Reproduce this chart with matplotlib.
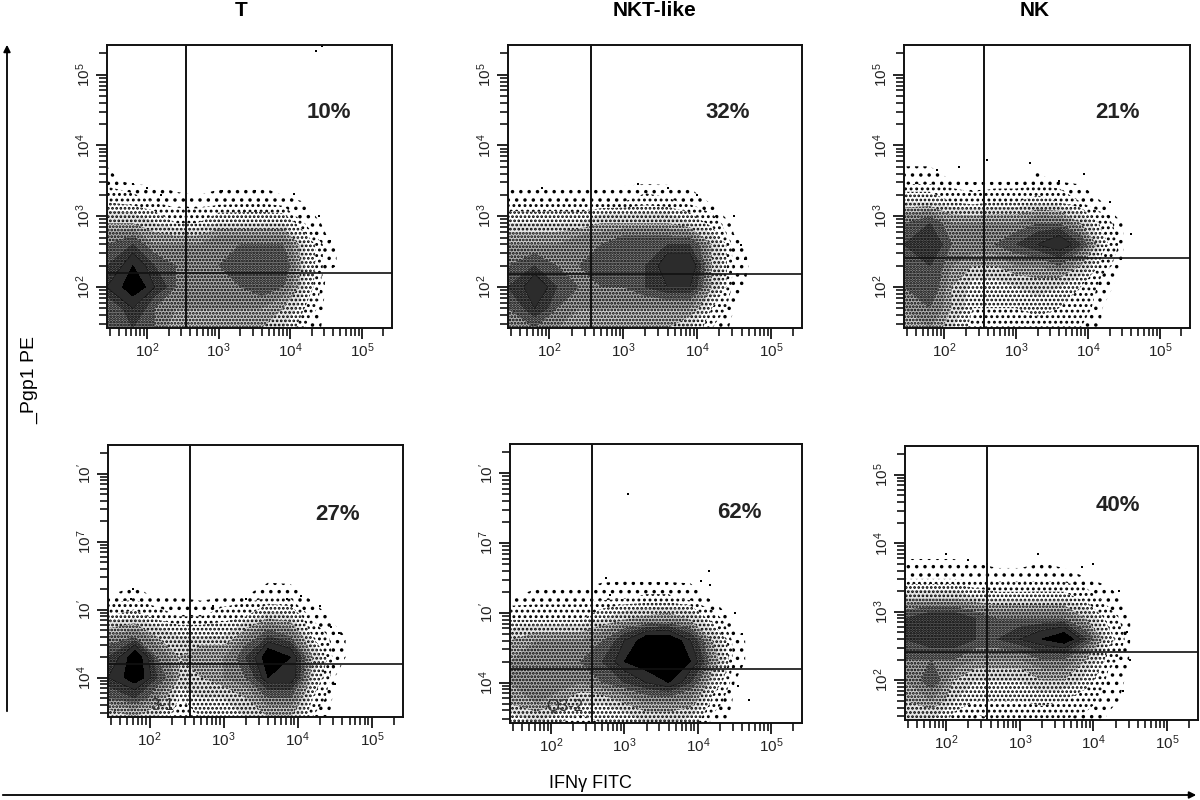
import numpy as np
import matplotlib
matplotlib.use('Agg')
import matplotlib.pyplot as plt
from matplotlib.ticker import FixedLocator, LogLocator, NullFormatter

plt.rcParams['font.family'] = ['Liberation Sans', 'DejaVu Sans']
plt.rcParams['mathtext.default'] = 'regular'
plt.rcParams['hatch.linewidth'] = 1.3

W, H = 1200.0, 800.0

# log10 of the bin centres, the density grids below are read by eye (0-10 ink)
log_x = [1.44, 1.8, 2.1, 2.4, 2.7, 3.0, 3.3, 3.6, 3.9, 4.2, 4.5]
log_y = [1.42, 1.7, 2.0, 2.3, 2.6, 2.9, 3.2, 3.5]

dens_t_top = [
    [6, 7, 6, 4, 4, 4, 4, 4, 3, 1, 0],
    [6, 8, 6, 5, 5, 5, 5, 5, 4, 2, 0],
    [8, 10, 8, 6, 6, 6, 6, 7, 6, 3, 0],
    [7, 9, 7, 6, 6, 6, 7, 7, 7, 3, .5],
    [6, 7, 5, 5, 5, 6, 6, 6, 6, 3, .5],
    [4, 4, 3, 2, 2, 3, 3, 3, 3, 1, 0],
    [2, 1.5, 1, .5, .4, .6, .7, .8, .4, .3, 0],
    [.5, 0, 0, 0, 0, 0, 0, 0, 0, 0, 0],
]
dens_nkt_top = [
    [5, 6, 5, 4, 4, 4, 4, 4, 3, 1, 0],
    [6, 8, 6, 5, 5, 5, 5, 5, 5, 2, .3],
    [7, 9, 7, 6, 6, 6, 7, 8, 8, 4, .5],
    [6, 7, 6, 6, 7, 7, 7, 9, 9, 4, .7],
    [5, 5, 5, 6, 6, 7, 7, 7, 7, 4, .5],
    [3, 3, 3, 3, 4, 4, 4, 4, 3, 1.5, 0],
    [1, .8, 1, .7, .9, 1, 1.5, 1.2, .7, .2, 0],
    [0, 0, 0, 0, 0, 0, 0, 0, 0, 0, 0],
]
dens_nk_top = [
    [4, 5, 3, 1.5, 1.5, 1.5, 1.5, 1, 1, .2, 0],
    [5, 6, 4, 2, 2, 2, 2.5, 2, 1.5, .3, 0],
    [6, 7, 4, 2.5, 2.5, 3, 3.5, 3, 2, .5, 0],
    [6, 7, 5, 4, 4, 5, 5, 6, 4, 1.5, .1],
    [7, 8, 6, 6, 6, 7, 8, 9, 7, 2.5, .3],
    [6, 7, 5, 5, 5, 5, 6, 6, 4, 1.5, .2],
    [3, 3, 2, 1.5, 2, 2, 2.5, 2, 1, .3, 0],
    [.5, .5, .3, .2, .2, .2, .4, .2, .1, 0, 0],
]
dens_t_bot = [
    [3, 4, 3, 1, 2, 2, 3, 4, 4, 1, 0],
    [6, 7, 5, 2, 3, 3, 4, 6, 6, 2, 0],
    [8, 10, 7, 4, 4, 5, 6, 9, 9, 3, .3],
    [7, 10, 6, 4, 5, 5, 7, 10, 9, 4, .5],
    [5, 6, 4, 3, 3, 3, 5, 7, 6, 2, .5],
    [2, 2.5, 1.5, 1, 1, 1.5, 2, 3.5, 3, .7, .1],
    [.3, .5, .2, .2, 0, .2, .3, .7, .6, .1, 0],
    [0, 0, 0, 0, 0, 0, 0, 0, 0, 0, 0],
]
dens_nkt_bot = [
    [2, 3, 2, 1.5, 2, 2, 3, 3, 2.5, .7, 0],
    [4, 5, 4, 3, 3, 4, 5, 5, 4.5, 1.5, .1],
    [5, 6, 6, 5, 6, 7, 8, 9, 7, 3, .3],
    [5, 6, 6, 6, 7, 9, 10, 10, 9, 5, .5],
    [4, 5, 5, 5, 6, 8, 10, 10, 8, 4, .5],
    [2, 2, 2, 2, 3, 4, 4.5, 5, 4, 1.5, .2],
    [.3, .5, .5, .5, .8, 1, 1.2, 1.2, .7, .2, .1],
    [0, 0, 0, 0, .1, .1, 0, 0, .1, .1, 0],
]
dens_nk_bot = [
    [3, 3, 1.5, .7, 1, 1, 1, 1, .7, .2, 0],
    [4, 5, 3, 2, 2, 2, 2.5, 2, 1.5, .5, 0],
    [5, 7, 4, 3, 3, 3, 4, 4, 2.5, .7, .1],
    [6, 6, 6, 5, 5, 5, 6, 6, 4, 1.5, .2],
    [7, 8, 8, 7, 7, 8, 9, 10, 7, 2.5, .3],
    [7, 8, 8, 7, 6, 6, 6, 6, 4, 1.5, .3],
    [4, 4, 4, 3, 2.5, 2.5, 2.5, 2.5, 1.5, .5, .1],
    [.7, .7, .7, .5, .4, .4, .5, .4, .3, .1, 0],
]

# stray events that can be seen one by one (log10 x, log10 y)
stray_t_top = [(4.36, 5.33), (4.44, 5.40), (3.05, 3.35), (3.5, 3.36), (4.05, 3.32), (2.0, 3.4), (2.2, 3.3), (1.8, 3.45), (4.4, 3.0), (4.55, 2.65), (4.6, 2.3)]
stray_nkt_top = [(3.6, 3.4), (3.2, 3.45), (2.4, 3.35), (4.0, 3.3), (4.6, 2.6), (4.65, 2.4), (1.9, 3.4), (4.5, 3.0)]
stray_nk_top = [(3.2, 3.75), (2.6, 3.8), (1.9, 3.65), (2.2, 3.7), (3.6, 3.5), (4.3, 3.2), (4.6, 2.75), (3.95, 3.6)]
stray_t_bot = [(1.78, 3.3), (1.75, 3.15), (2.85, 3.05), (3.3, 3.15), (4.05, 3.2), (3.85, 3.15), (4.55, 2.65), (4.45, 2.75), (4.3, 3.05), (4.5, 1.9)]
stray_nkt_bot = [(3.05, 4.7), (4.15, 3.6), (4.05, 3.45), (2.75, 3.5), (4.17, 3.4), (2.8, 3.25), (4.5, 3.0), (4.6, 2.7), (4.7, 1.75), (4.55, 1.95)]
stray_nk_bot = [(2.0, 3.85), (3.25, 3.85), (2.3, 3.75), (4.0, 3.7), (3.85, 3.65), (2.55, 3.7), (4.35, 3.3), (4.45, 2.7), (4.5, 2.3), (4.4, 1.85)]

panels = ['T', 'NKT-like', 'NK', 'T', 'NKT-like', 'NK']
percents = ['10%', '32%', '21%', '27%', '62%', '40%']
densities = [dens_t_top, dens_nkt_top, dens_nk_top, dens_t_bot, dens_nkt_bot, dens_nk_bot]
strays = [stray_t_top, stray_nkt_top, stray_nk_top, stray_t_bot, stray_nkt_bot, stray_nk_bot]
gate_x = [2.54, 2.57, 2.56, 2.55, 2.56, 2.55]
gate_y = [2.20, 2.18, 2.41, 2.20, 2.20, 2.42]

top_ticklabels = ['$10^2$', '$10^3$', '$10^4$', '$10^5$']
bot_ticklabels = ['$10^4$', "$10^{\\prime}$", '$10^7$', "$10^{\\prime}$"]

# left, top, right, bottom of each frame in pixels
boxes = [(107, 45, 392, 328), (508, 45, 802, 328), (904, 45, 1190, 328),
         (108, 445, 403, 717), (510, 444, 802, 723), (905, 446, 1198, 720)]
pct_pos = [(329, 113), (728, 113), (1118, 113), (338, 515), (739, 513), (1118, 506)]

fig = plt.figure(figsize=(12, 8), dpi=100, facecolor='w')


def add_panel(i):
    l, t, r, b = boxes[i]
    ax = fig.add_axes([l / W, 1 - b / H, (r - l) / W, (b - t) / H])
    ax.set_xscale('log')
    ax.set_yscale('log')

    xs = 10.0 ** np.array(log_x + [4.8])
    ys = 10.0 ** np.array(log_y + [3.9])
    z = np.zeros((len(ys), len(xs)))
    z[:-1, :-1] = np.array(densities[i])

    # grey keeps the tone, the dots on top of it keep the speckle
    ax.contourf(xs, ys, z, levels=[3, 4, 5, 6, 7, 8, 9, 11],
                colors=['#e4e4e4', '#cfcfcf', '#b0b0b0', '#8c8c8c', '#5e5e5e', '#2c2c2c', '#000000'])
    ax.contourf(xs, ys, z, levels=[.3, 1, 2, 3, 4, 5, 6, 8],
                colors='none', hatches=['..', '...', '....', '....', '.....', '.....', '......'])

    sx, sy = zip(*strays[i])
    ax.plot(10.0 ** np.array(sx), 10.0 ** np.array(sy), ls='none', marker='s', ms=1.8, color='k', mew=0)

    ax.axvline(10 ** gate_x[i], color='#111111', lw=1.4)
    ax.axhline(10 ** gate_y[i], color='#111111', lw=1.2)

    ax.set_xlim(10 ** 1.44, 10 ** 5.42)
    ax.set_ylim(10 ** 1.42, 10 ** 5.42)
    ax.xaxis.set_major_locator(FixedLocator([1e2, 1e3, 1e4, 1e5]))
    ax.yaxis.set_major_locator(FixedLocator([1e2, 1e3, 1e4, 1e5]))
    for axis in (ax.xaxis, ax.yaxis):
        axis.set_minor_locator(LogLocator(base=10, subs=range(2, 10), numticks=12))
        axis.set_minor_formatter(NullFormatter())
    ax.set_xticklabels(top_ticklabels, fontsize=11, color='#222222')
    ylabs = top_ticklabels if i in (0, 1, 2, 5) else bot_ticklabels
    ax.set_yticklabels(ylabs, fontsize=11, color='#222222', rotation=90, va='center')
    ax.tick_params(which='major', length=8, width=1.2, pad=2)
    ax.tick_params(which='minor', length=6, width=1.1)
    for s in ax.spines.values():
        s.set_linewidth(1.4)
        s.set_color('#111111')

    px, py = pct_pos[i]
    fig.text(px / W, 1 - py / H, percents[i], fontsize=16, fontweight='bold',
             color='#222222', ha='center', va='center')


for i in range(6):
    add_panel(i)

for name, px in zip(panels[:3], (241, 654, 1035)):
    fig.text(px / W, 1 - 11 / H, name, fontsize=15, fontweight='bold', ha='center', va='center')

fig.text(30 / W, 1 - 380 / H, '_Pgp1 PE', fontsize=14, rotation=90, ha='center', va='center')
fig.text(590 / W, 1 - 783 / H, 'IFN\u03b3 FITC', fontsize=13, ha='center', va='center')
fig.text(162 / W, 1 - 705 / H, '3-1', fontsize=12, color='#333333', ha='center', va='center')
fig.text(565 / W, 1 - 706 / H, 'Q3-2', fontsize=12, color='#333333', ha='center', va='center')

# the two long arrows
overlay = fig.add_axes([0, 0, 1, 1], facecolor='none')
overlay.set_xlim(0, W)
overlay.set_ylim(H, 0)
overlay.axis('off')
overlay.annotate('', xy=(7, 42), xytext=(7, 714), arrowprops=dict(arrowstyle='-|>', color='k', lw=1.3))
overlay.annotate('', xy=(1199, 795), xytext=(0, 795), arrowprops=dict(arrowstyle='-|>', color='k', lw=1.3))

fig.savefig('out.png', dpi=100)
plt.close(fig)
